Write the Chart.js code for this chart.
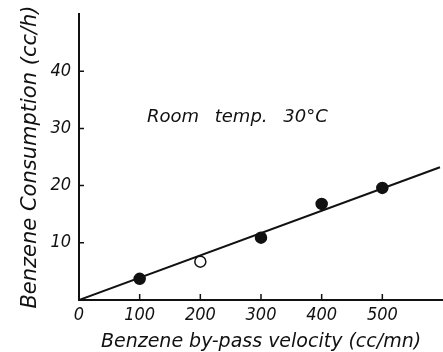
<!DOCTYPE html>
<html>
<head>
<meta charset="utf-8">
<script src="https://cdn.jsdelivr.net/npm/chart.js@4"></script>
<style>
  body { margin: 0; background: #fff; }
  #box { width: 443px; height: 352px; position: relative; }
</style>
</head>
<body>
<div id="box"><canvas id="myChart"></canvas></div>
<script>
// datos
const velocity = [100, 200, 300, 400, 500];
const consumption = [3.7, 6.7, 10.9, 16.8, 19.6];
const pointFill = ["#111", "#fff", "#111", "#111", "#111"];
const fitX = [0, 595];
const fitY = [0, 23.2];
const xTicks = [0, 100, 200, 300, 400, 500];
const yTicks = [10, 20, 30, 40];
const note = "Room temp. 30°C";
const noteAt = [112, 32];

const ink = "#111";
const tickFont = { family: "'DejaVu Sans Condensed', 'DejaVu Sans', sans-serif", size: 18, style: "italic" };
const titleFont = { family: "'DejaVu Sans', sans-serif", size: 19, style: "italic", lineHeight: 1 };

// quita el relleno automatico de los ejes
function sinPadding(s) {
    s.paddingLeft = 0;
    s.paddingRight = 0;
    s.paddingTop = 0;
    s.paddingBottom = 0;
}

// marcas cortas hacia dentro y texto de temperatura
const extras = {
    id: "extras",
    afterDraw: (chart) => {
        const { ctx, scales: { x, y } } = chart;
        ctx.save();
        ctx.strokeStyle = ink;
        ctx.lineWidth = 1.5;
        ctx.beginPath();
        xTicks.slice(1).forEach(v => {
            const px = x.getPixelForValue(v);
            ctx.moveTo(px, y.bottom);
            ctx.lineTo(px, y.bottom - 6);
        });
        yTicks.forEach(v => {
            const py = y.getPixelForValue(v);
            ctx.moveTo(x.left, py);
            ctx.lineTo(x.left + 5, py);
        });
        ctx.stroke();
        ctx.fillStyle = ink;
        ctx.font = "italic 18px 'DejaVu Sans', sans-serif";
        ctx.wordSpacing = "10px";
        ctx.textBaseline = "middle";
        ctx.fillText(note, x.getPixelForValue(noteAt[0]), y.getPixelForValue(noteAt[1]));
        ctx.restore();
    }
};

const config = {
    type: "scatter",
    data: {
        datasets: [
            {
                label: "Medido",
                data: velocity.map((v, i) => ({ x: v, y: consumption[i] })),
                pointRadius: 5.5,
                pointBackgroundColor: pointFill,
                pointBorderColor: ink,
                pointBorderWidth: 1.5,
                order: 0
            },
            {
                label: "Ajuste",
                data: fitX.map((v, i) => ({ x: v, y: fitY[i] })),
                showLine: true,
                borderColor: ink,
                borderWidth: 2,
                pointRadius: 0,
                order: 1
            }
        ]
    },
    options: {
        responsive: true,
        maintainAspectRatio: false,
        animation: false,
        devicePixelRatio: 1,
        layout: { autoPadding: false, padding: { left: 0, right: 0, top: 14, bottom: 0 } },
        plugins: { legend: { display: false }, tooltip: { enabled: false } },
        scales: {
            x: {
                type: "linear",
                min: 0,
                max: 600,
                afterBuildTicks: (s) => { s.ticks = xTicks.map(v => ({ value: v })); },
                afterFit: (s) => { s.height = 52; sinPadding(s); },
                grid: { display: false, drawTicks: false },
                border: { display: true, color: ink, width: 2 },
                ticks: { color: ink, font: tickFont, padding: 5, maxRotation: 0 },
                title: {
                    display: true,
                    text: "Benzene by-pass velocity (cc/mn)",
                    color: ink,
                    font: titleFont,
                    padding: { top: 0, bottom: 0 }
                }
            },
            y: {
                type: "linear",
                min: 0,
                max: 50,
                afterBuildTicks: (s) => { s.ticks = yTicks.map(v => ({ value: v })); },
                afterFit: (s) => { s.width = 79; sinPadding(s); },
                grid: { display: false, drawTicks: false },
                border: { display: true, color: ink, width: 2 },
                ticks: { color: ink, font: tickFont, padding: 8 },
                title: {
                    display: true,
                    text: "Benzene Consumption (cc/h)",
                    color: ink,
                    font: { ...titleFont, size: 21, lineHeight: 1.2 },
                    padding: { top: 18, bottom: 0 }
                }
            }
        }
    },
    plugins: [extras]
};

new Chart(document.querySelector("#myChart"), config);
</script>
</body>
</html>
